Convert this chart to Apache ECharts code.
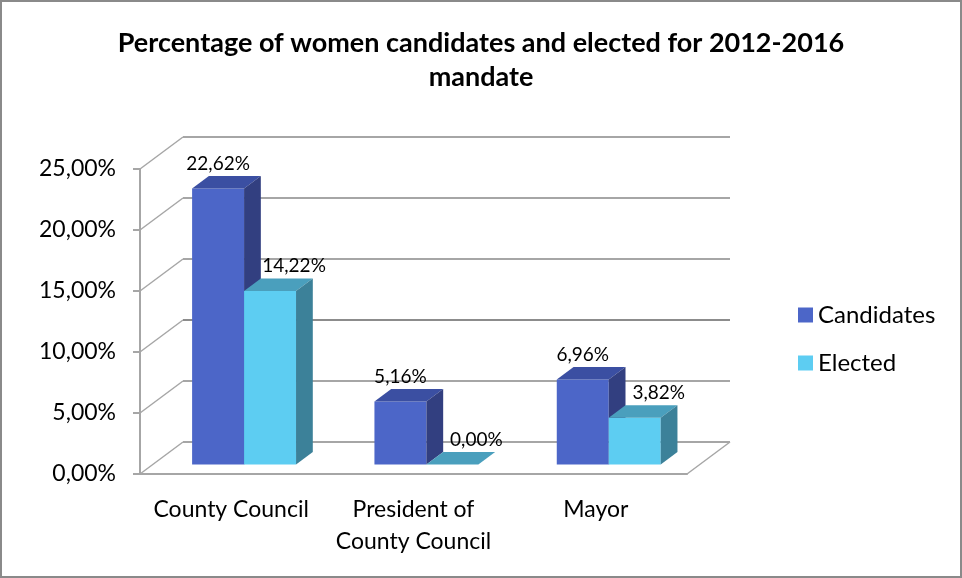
<!DOCTYPE html>
<html>
<head>
<meta charset="utf-8">
<title>Women candidates and elected 2012-2016</title>
<script src="https://cdn.jsdelivr.net/npm/echarts@6/dist/echarts.min.js"></script>
<style>
    html, body { margin: 0; padding: 0; background: #fff; }
    #main { width: 962px; height: 578px; }
</style>
</head>
<body>
<div id="main"></div>
<script>
// data
const categories = ['County Council', 'President of\nCounty Council', 'Mayor'];
const candidates = [22.62, 5.16, 6.96];
const elected = [14.22, 0.00, 3.82];
const yTicks = [0, 5, 10, 15, 20, 25];

// depth of the 3D box (back wall offset)
const DX = 43;
const DY = -32;
const FONT = 'Lato';

function pct(v) {
    return v.toFixed(2).replace('.', ',') + '%';
}

// back wall, side lines and floor edges
function renderWall(params, api) {
    const v = api.value(1);
    const bw = api.size([1, 0])[0];
    const p = api.coord([0, v]);
    const xl = p[0] - bw / 2;
    const xr = api.coord([2, v])[0] + bw / 2;
    const y = p[1];
    const style = { stroke: v === 10 ? '#8c8c8c' : '#a6a6a6', lineWidth: 2 };
    const children = [
        { type: 'line', shape: { x1: xl, y1: y, x2: xl + DX, y2: y + DY }, style: { stroke: '#a6a6a6', lineWidth: 1.5 } },
        { type: 'line', shape: { x1: xl + DX, y1: y + DY, x2: xr + DX, y2: y + DY }, style: style }
    ];
    if (v === 0) {
        children.push({ type: 'line', shape: { x1: xr, y1: y, x2: xr + DX, y2: y + DY }, style: { stroke: '#a6a6a6', lineWidth: 1.5 } });
    }
    return { type: 'group', children: children };
}

// 3D looking bar
function makeBar(seriesIdx, colors, labelDx) {
    return function (params, api) {
        const cat = api.value(0);
        const v = api.value(1);
        const c = api.coord([cat, v]);
        const base = api.coord([cat, 0]);
        const bw = api.size([1, 0])[0];
        const w = bw * 0.285;
        const x0 = c[0] + DX * 0.3 + (seriesIdx === 0 ? -w : 0);
        const x1 = x0 + w;
        const yTop = c[1] + DY * 0.3;
        const yBot = base[1] + DY * 0.3;
        const ox = DX * 0.39, oy = DY * 0.39;
        return {
            type: 'group',
            children: [
                { type: 'rect', shape: { x: x0, y: yTop, width: w, height: yBot - yTop }, style: { fill: colors[0] } },
                { type: 'polygon', shape: { points: [[x0, yTop], [x1, yTop], [x1 + ox, yTop + oy], [x0 + ox, yTop + oy]] }, style: { fill: colors[1] } },
                { type: 'polygon', shape: { points: [[x1, yTop], [x1 + ox, yTop + oy], [x1 + ox, yBot + oy], [x1, yBot]] }, style: { fill: colors[2] } },
                {
                    type: 'text',
                    x: (x0 + x1) / 2 + labelDx,
                    y: yTop - 25,
                    style: {
                        text: pct(v), fill: '#000', fontFamily: FONT, fontSize: 19,
                        align: 'center', verticalAlign: 'middle'
                    }
                }
            ]
        };
    };
}

const candColors = ['#4c66c8', '#3b4fa2', '#323f80'];
const elecColors = ['#5dcdf2', '#4a9fbd', '#3c8199'];

const myChart = echarts.init(document.getElementById('main'));

const option = {
    backgroundColor: '#fff',
    animation: false,
    textStyle: { fontFamily: FONT },
    title: {
        text: 'Percentage of women candidates and elected for 2012-2016\nmandate',
        left: 'center',
        top: 21,
        textStyle: { fontFamily: FONT, fontSize: 27, fontWeight: 'bold', color: '#000', lineHeight: 34 }
    },
    legend: {
        orient: 'vertical',
        left: 793,
        top: 298,
        itemWidth: 15,
        itemHeight: 15,
        itemGap: 24,
        icon: 'rect',
        data: ['Candidates', 'Elected'],
        textStyle: { fontFamily: FONT, fontSize: 24, color: '#000' }
    },
    grid: { left: 140, right: 275, top: 169, bottom: 104 },
    xAxis: {
        type: 'category',
        data: categories,
        axisLine: { lineStyle: { color: '#a6a6a6', width: 2 } },
        axisTick: { length: 6, lineStyle: { color: '#a6a6a6', width: 2 } },
        axisLabel: { color: '#000', fontSize: 23, lineHeight: 32, margin: 20, fontFamily: FONT, interval: 0 }
    },
    yAxis: {
        type: 'value',
        min: 0,
        max: 25,
        interval: 5,
        axisLine: { show: true, lineStyle: { color: '#a6a6a6', width: 2 } },
        axisTick: { show: true, length: 7, lineStyle: { color: '#a6a6a6', width: 2 } },
        splitLine: { show: false },
        axisLabel: { color: '#000', fontSize: 23, margin: 24, fontFamily: FONT, formatter: pct }
    },
    graphic: [{
        type: 'rect',
        shape: { x: 1, y: 1, width: 960, height: 576 },
        style: { fill: 'none', stroke: '#8a8a8a', lineWidth: 2 },
        z: 100
    }],
    series: [
        {
            name: 'wall',
            type: 'custom',
            renderItem: renderWall,
            data: yTicks.map(v => [0, v]),
            z: 1,
            silent: true
        },
        {
            name: 'Candidates',
            type: 'custom',
            renderItem: makeBar(0, candColors, 0),
            itemStyle: { color: candColors[0] },
            data: candidates.map((v, i) => [i, v]),
            z: 2
        },
        {
            name: 'Elected',
            type: 'custom',
            renderItem: makeBar(1, elecColors, 24),
            itemStyle: { color: elecColors[0] },
            data: elected.map((v, i) => [i, v]),
            z: 3
        }
    ]
};

myChart.setOption(option);
</script>
</body>
</html>
